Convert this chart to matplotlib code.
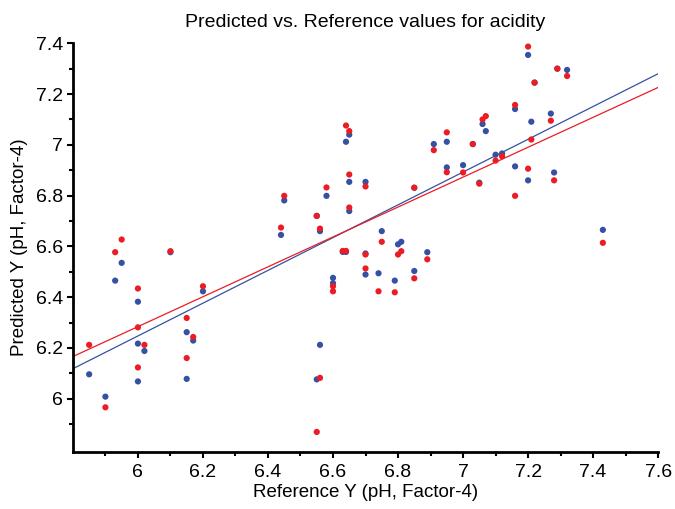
import matplotlib
matplotlib.use("Agg")
import matplotlib.pyplot as plt
import numpy as np
from matplotlib.ticker import FixedLocator, MultipleLocator, FuncFormatter

plt.rcParams['font.family'] = ['Liberation Sans', 'DejaVu Sans']

# Blue series (reference, predicted)
blue_x = [5.85, 5.90, 5.93, 5.95, 6.00, 6.00, 6.00, 6.02, 6.10, 6.15, 6.15, 6.17, 6.20,
          6.44, 6.45, 6.55, 6.55, 6.56, 6.56, 6.58, 6.60, 6.60, 6.63, 6.64, 6.64, 6.65,
          6.65, 6.65, 6.70, 6.70, 6.70, 6.74, 6.75, 6.79, 6.80, 6.81, 6.85, 6.85, 6.89,
          6.91, 6.95, 6.95, 7.00, 7.03, 7.05, 7.06, 7.07, 7.10, 7.12, 7.16, 7.16, 7.20,
          7.20, 7.21, 7.22, 7.27, 7.28, 7.29, 7.32, 7.43]
blue_y = [6.096, 6.008, 6.465, 6.535, 6.382, 6.217, 6.068, 6.188, 6.577, 6.262, 6.078, 6.229, 6.423,
          6.645, 6.781, 6.720, 6.076, 6.212, 6.660, 6.799, 6.476, 6.455, 6.578, 6.578, 7.012, 7.040,
          6.854, 6.739, 6.854, 6.572, 6.489, 6.494, 6.660, 6.465, 6.608, 6.618, 6.503, 6.831, 6.577,
          7.003, 7.012, 6.911, 6.920, 7.003, 6.851, 7.082, 7.054, 6.961, 6.966, 7.141, 6.915, 7.354,
          6.860, 7.091, 7.245, 7.123, 6.891, 7.300, 7.295, 6.665]

# Red series (reference, predicted)
red_x = [5.85, 5.90, 5.93, 5.95, 6.00, 6.00, 6.00, 6.02, 6.10, 6.15, 6.15, 6.17, 6.20,
         6.44, 6.45, 6.55, 6.55, 6.56, 6.56, 6.58, 6.60, 6.60, 6.63, 6.64, 6.64, 6.65,
         6.65, 6.65, 6.70, 6.70, 6.70, 6.74, 6.75, 6.79, 6.80, 6.81, 6.85, 6.85, 6.89,
         6.91, 6.95, 6.95, 7.00, 7.03, 7.05, 7.06, 7.07, 7.10, 7.12, 7.16, 7.16, 7.20,
         7.20, 7.21, 7.22, 7.27, 7.28, 7.29, 7.32, 7.43]
red_y = [6.212, 5.966, 6.577, 6.627, 6.434, 6.281, 6.123, 6.212, 6.581, 6.318, 6.160, 6.243, 6.443,
         6.674, 6.799, 6.720, 5.869, 6.082, 6.670, 6.832, 6.443, 6.423, 6.582, 6.582, 7.076, 7.054,
         6.883, 6.753, 6.836, 6.568, 6.513, 6.423, 6.618, 6.419, 6.568, 6.581, 6.474, 6.831, 6.549,
         6.979, 7.049, 6.892, 6.891, 7.003, 6.847, 7.100, 7.113, 6.938, 6.955, 7.157, 6.799, 7.387,
         6.906, 7.021, 7.245, 7.095, 6.860, 7.300, 7.271, 6.614]

# Regression lines: value at x=5.8 and x=7.6
line_x = [5.8, 7.6]
blue_line_y = [6.118, 7.280]
red_line_y = [6.166, 7.226]

# Tick labels
x_ticks = [6.0, 6.2, 6.4, 6.6, 6.8, 7.0, 7.2, 7.4, 7.6]
x_ticklabels = ['6', '6.2', '6.4', '6.6', '6.8', '7', '7.2', '7.4', '7.6']
y_ticks = [6.0, 6.2, 6.4, 6.6, 6.8, 7.0, 7.2, 7.4]
y_ticklabels = ['6', '6.2', '6.4', '6.6', '6.8', '7', '7.2', '7.4']
x_minor = [5.9, 6.1, 6.3, 6.5, 6.7, 6.9, 7.1, 7.3, 7.5]
y_minor = [5.9, 6.1, 6.3, 6.5, 6.7, 6.9, 7.1, 7.3]

BLUE = '#3451A3'
RED = '#EC1C24'

fig = plt.figure(figsize=(6.75, 5.09), dpi=100)
ax = fig.add_axes([0.108, 0.112, 0.867, 0.803])

ax.plot(line_x, blue_line_y, color=BLUE, lw=0.9, zorder=2)
ax.plot(line_x, red_line_y, color=RED, lw=0.9, zorder=2)
ax.scatter(blue_x, blue_y, s=20, color=BLUE, edgecolors='none', zorder=3)
ax.scatter(red_x, red_y, s=20, color=RED, edgecolors='none', zorder=4)

ax.set_xlim(5.8, 7.6)
ax.set_ylim(5.79, 7.4)
ax.set_xticks(x_ticks)
ax.set_xticklabels(x_ticklabels)
ax.set_yticks(y_ticks)
ax.set_yticklabels(y_ticklabels)
ax.xaxis.set_minor_locator(FixedLocator(x_minor))
ax.yaxis.set_minor_locator(FixedLocator(y_minor))

for s in ['top', 'right']:
    ax.spines[s].set_visible(False)
for s in ['left', 'bottom']:
    ax.spines[s].set_linewidth(2)
ax.tick_params(axis='both', which='major', direction='out', length=4, width=1.5, labelsize=14)
ax.tick_params(axis='y', which='major', pad=3)
ax.tick_params(axis='x', which='major', pad=5)
ax.tick_params(axis='both', which='minor', direction='out', length=3, width=1.5)

ax.set_xlabel('Reference Y (pH, Factor-4)', fontsize=13.5, labelpad=2)
ax.set_ylabel('Predicted Y (pH, Factor-4)', fontsize=13.5, labelpad=6)
ax.set_title('Predicted vs. Reference values for acidity', fontsize=14, pad=12)

fig.savefig('out.png', dpi=100)
